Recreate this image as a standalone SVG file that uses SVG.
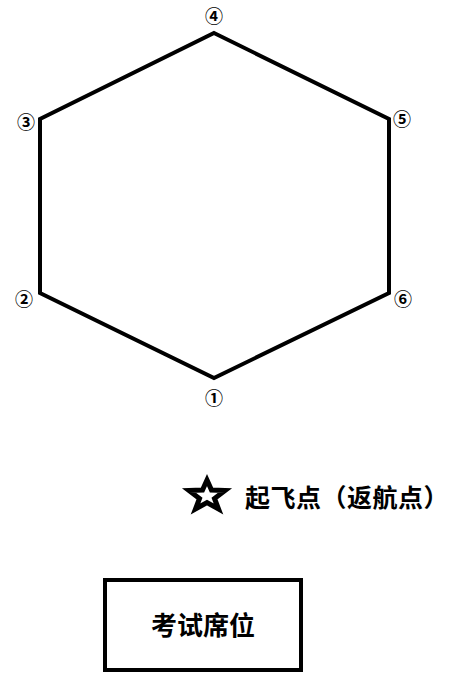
<svg xmlns="http://www.w3.org/2000/svg" width="452" height="676" viewBox="0 0 452 676">
<style>
.lbl{font-family:"Noto Sans CJK SC",sans-serif;font-size:18px;font-weight:bold;fill:#000;text-anchor:middle;dominant-baseline:central}
.cjk{font-family:"Noto Sans CJK SC",sans-serif;font-weight:bold;fill:#000}
.ln{fill:none;stroke:#000;stroke-width:4;stroke-linejoin:miter}
</style>
<rect width="452" height="676" fill="#fff"/>
<g id="connectors">
<polygon class="ln" points="214,33 389,119 389,293 214,378 40,293 40,119"/>
</g>
<g id="n4"><text class="lbl" x="214" y="15">④</text></g>
<g id="n3"><text class="lbl" x="26" y="121">③</text></g>
<g id="n2"><text class="lbl" x="24" y="298">②</text></g>
<g id="n5"><text class="lbl" x="402" y="118">⑤</text></g>
<g id="n6"><text class="lbl" x="403" y="298">⑥</text></g>
<g id="n1"><text class="lbl" x="214" y="397">①</text></g>
<g id="takeoff">
<polygon points="207,480 211.5,490 225,490.5 214.5,498.5 218.5,509 207,502.5 195.5,509 199.5,498.5 189,490.5 202.5,490" fill="none" stroke="#000" stroke-width="5" stroke-linejoin="miter"/>
<text class="cjk" x="245" y="496" font-size="25" letter-spacing="0.5" dominant-baseline="central">起飞点（返航点）</text>
</g>
<g id="seat">
<rect x="105" y="580" width="196" height="90" fill="#fff" stroke="#000" stroke-width="4"/>
<text class="cjk" x="203" y="623" font-size="26" text-anchor="middle" dominant-baseline="central">考试席位</text>
</g>
</svg>
